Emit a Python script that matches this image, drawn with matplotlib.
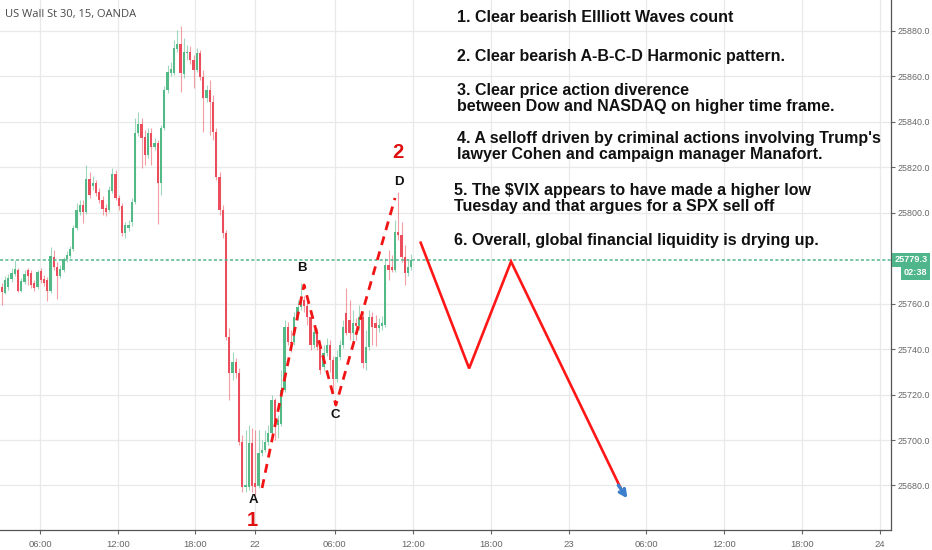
import matplotlib
matplotlib.use("Agg")
import matplotlib.pyplot as plt
import matplotlib.transforms as mtransforms
import numpy as np

# ---------------- data (15-min bars, US Wall St 30) ----------------
opens = [
    25767.3, 25764.7, 25767.3, 25770.8, 25773.0, 25774.8, 25765.6, 25769.5, 25774.8, 25773.5,
    25769.1, 25767.3, 25774.4, 25770.8, 25770.4, 25765.6, 25780.5, 25776.1, 25772.2, 25774.8,
    25779.6, 25781.0, 25784.0, 25793.3, 25800.3, 25803.4, 25800.3, 25814.8, 25811.8, 25813.1,
    25809.1, 25805.6, 25802.1, 25801.2, 25809.6, 25817.0, 25806.5, 25803.0, 25791.1, 25793.3,
    25795.9, 25804.7, 25835.1, 25839.0, 25833.3, 25825.4, 25835.1, 25828.9, 25830.7, 25813.1,
    25837.3, 25854.0, 25861.5, 25861.5, 25872.0, 25874.2, 25861.0, 25870.3, 25870.7, 25867.2,
    25862.8, 25870.3, 25859.7, 25850.5, 25854.0, 25848.7, 25835.5, 25815.7, 25801.2, 25791.1,
    25745.3, 25729.5, 25734.3, 25729.5, 25699.1, 25679.3, 25679.3, 25698.7, 25681.1, 25679.8,
    25694.3, 25695.6, 25699.1, 25703.1, 25717.6, 25706.6, 25707.0, 25722.0, 25749.7, 25743.1,
    25743.1, 25754.1, 25758.5, 25761.6, 25759.0, 25754.1, 25741.8, 25747.5, 25740.9, 25732.1,
    25738.3, 25741.8, 25735.2, 25726.8, 25736.5, 25741.8, 25755.9, 25752.8, 25747.1, 25751.5,
    25750.2, 25754.1, 25733.9, 25740.9, 25754.1, 25751.5, 25749.3, 25750.2, 25750.6, 25777.0,
    25776.1, 25774.8, 25791.5, 25790.2, 25780.5, 25773.5, 25776.1]
closes = [
    25765.1, 25770.4, 25771.3, 25773.5, 25775.2, 25765.6, 25770.0, 25773.0, 25772.2, 25768.2,
    25766.9, 25773.9, 25770.4, 25769.1, 25765.6, 25781.0, 25776.1, 25772.2, 25775.2, 25779.6,
    25781.4, 25784.0, 25793.3, 25801.2, 25803.4, 25800.3, 25814.8, 25807.8, 25813.1, 25808.7,
    25805.6, 25801.6, 25800.3, 25810.0, 25817.0, 25806.5, 25803.0, 25791.1, 25794.6, 25794.6,
    25804.7, 25835.1, 25839.0, 25832.9, 25825.4, 25835.1, 25828.9, 25830.7, 25813.1, 25837.3,
    25854.0, 25861.9, 25863.2, 25872.5, 25874.2, 25861.5, 25870.7, 25870.7, 25867.2, 25862.8,
    25870.3, 25859.7, 25850.5, 25854.0, 25848.7, 25835.5, 25815.7, 25801.2, 25791.1, 25745.3,
    25729.5, 25734.3, 25729.5, 25699.1, 25679.3, 25680.2, 25698.7, 25679.8, 25679.3, 25694.3,
    25695.6, 25699.1, 25703.1, 25717.6, 25707.0, 25708.8, 25722.0, 25749.7, 25743.1, 25742.7,
    25754.1, 25758.5, 25761.6, 25759.0, 25754.1, 25741.8, 25747.5, 25740.9, 25730.8, 25738.3,
    25741.8, 25735.2, 25726.8, 25736.5, 25741.8, 25749.7, 25747.1, 25747.1, 25751.5, 25750.2,
    25754.1, 25733.9, 25740.9, 25754.1, 25749.7, 25749.3, 25750.6, 25751.5, 25777.0, 25774.8,
    25774.8, 25791.5, 25790.2, 25780.5, 25773.5, 25776.1, 25779.3]
highs = [
    25769.1, 25772.2, 25773.0, 25775.7, 25779.2, 25775.7, 25771.3, 25774.8, 25775.7, 25774.8,
    25770.4, 25774.8, 25775.7, 25772.6, 25771.7, 25784.9, 25783.6, 25778.3, 25777.0, 25780.5,
    25783.2, 25785.4, 25794.6, 25804.3, 25805.6, 25805.6, 25821.0, 25817.9, 25816.2, 25814.4,
    25810.9, 25807.4, 25803.8, 25811.8, 25819.7, 25818.8, 25807.8, 25804.3, 25795.9, 25796.8,
    25806.5, 25841.7, 25844.3, 25841.7, 25836.4, 25837.3, 25837.3, 25832.9, 25832.0, 25838.6,
    25855.8, 25865.0, 25866.3, 25876.0, 25880.4, 25882.2, 25876.9, 25873.8, 25873.4, 25869.4,
    25872.5, 25871.6, 25862.8, 25856.2, 25858.4, 25851.8, 25837.3, 25817.9, 25803.4, 25792.4,
    25749.3, 25738.7, 25736.1, 25731.7, 25702.2, 25704.4, 25706.6, 25705.3, 25704.4, 25704.4,
    25700.0, 25704.4, 25706.6, 25719.8, 25718.5, 25711.0, 25730.8, 25752.8, 25751.9, 25748.4,
    25756.3, 25761.6, 25769.1, 25763.4, 25761.6, 25756.3, 25750.6, 25749.3, 25744.0, 25741.8,
    25744.9, 25744.0, 25737.0, 25739.6, 25744.0, 25752.8, 25766.9, 25761.6, 25757.2, 25753.7,
    25759.4, 25756.3, 25748.4, 25757.2, 25756.3, 25755.0, 25753.7, 25754.6, 25780.1, 25783.6,
    25781.4, 25796.8, 25809.1, 25795.9, 25785.8, 25779.2, 25781.8]
lows = [
    25759.4, 25764.2, 25766.0, 25769.5, 25772.2, 25765.1, 25765.1, 25768.6, 25768.2, 25766.9,
    25765.6, 25766.4, 25769.1, 25767.8, 25761.2, 25764.7, 25774.8, 25762.0, 25771.3, 25773.9,
    25778.3, 25780.1, 25783.2, 25792.4, 25799.0, 25795.5, 25799.4, 25806.5, 25810.0, 25807.4,
    25804.3, 25799.0, 25798.6, 25800.3, 25808.7, 25805.6, 25801.2, 25789.8, 25788.9, 25792.0,
    25794.2, 25803.8, 25833.8, 25819.7, 25821.0, 25824.1, 25821.0, 25827.6, 25795.0, 25807.8,
    25836.4, 25852.7, 25860.2, 25860.6, 25870.7, 25853.1, 25859.3, 25867.2, 25865.4, 25854.9,
    25861.9, 25858.4, 25835.5, 25848.7, 25834.2, 25832.0, 25814.4, 25799.0, 25788.9, 25744.0,
    25717.6, 25726.4, 25727.3, 25697.8, 25677.1, 25677.1, 25678.0, 25677.1, 25675.8, 25678.9,
    25693.0, 25694.7, 25697.8, 25702.2, 25700.0, 25700.9, 25706.2, 25721.1, 25741.8, 25738.7,
    25741.8, 25752.8, 25757.2, 25756.3, 25750.6, 25739.6, 25740.5, 25739.6, 25729.0, 25730.8,
    25737.0, 25729.9, 25720.7, 25725.5, 25735.2, 25740.5, 25746.2, 25744.0, 25741.8, 25744.0,
    25748.4, 25731.7, 25730.8, 25739.6, 25741.8, 25741.4, 25747.5, 25748.4, 25749.7, 25770.4,
    25773.9, 25773.9, 25788.0, 25778.3, 25768.2, 25772.2, 25774.8]

last_price = 25779.3
countdown = "02:38"
title = "US Wall St 30, 15, OANDA"

price_ticks = [25680, 25700, 25720, 25740, 25760, 25800, 25820, 25840, 25860, 25880]
time_tick_bars = [11.8, 35.8, 59.5, 77.9, 102.5, 126.5, 150.5, 174.5, 198.2, 222.2, 246.2, 270.2]
time_tick_labels = ["06:00", "12:00", "18:00", "22", "06:00", "12:00", "18:00", "23",
                    "06:00", "12:00", "18:00", "24"]

# ABCD harmonic (dashed) and projected path (solid), in (bar, price)
abcd_x = [80.1, 93.0, 102.8, 121.0]
abcd_y = [25678.9, 25768.2, 25715.4, 25806.5]
proj_x = [128.9, 143.8, 156.7, 191.2]
proj_y = [25786.8, 25731.5, 25778.5, 25676.5]

pt_labels = ["A", "B", "C", "D"]
pt_label_x = [77.6, 92.4, 102.5, 122.2]
pt_label_y = [25673.6, 25775.7, 25711.0, 25813.5]
wave_labels = ["1", "2"]
wave_label_x = [77.0, 121.9]
wave_label_y = [25664.8, 25826.3]

notes = [
    "1. Clear bearish Ellliott Waves count",
    "2. Clear bearish A-B-C-D Harmonic pattern.",
    "3. Clear price action diverence\nbetween Dow and NASDAQ on higher time frame.",
    "4. A selloff driven by criminal actions involving Trump's\nlawyer Cohen and campaign manager Manafort.",
    "5. The $VIX appears to have made a higher low\nTuesday and that argues for a SPX sell off",
    "6. Overall, global financial liquidity is drying up.",
]

# ---------------- figure ----------------
W, H = 932, 550
fig = plt.figure(figsize=(W / 100, H / 100), dpi=100)
ax = fig.add_axes([0, 20 / H, 891 / W, 530 / H])
ax.set_xlim(-0.54, 273.6)
ax.set_ylim(25660.4, 25893.6)

GREEN = "#53b987"
RED = "#eb4d5c"
GRID = "#e9e9e9"
LBL = dict(family="Liberation Sans", size=6.4)

o = np.array(opens); c = np.array(closes); h = np.array(highs); l = np.array(lows)
idx = np.arange(len(o))
up = c >= o
cols = np.where(up, GREEN, RED)

ax.set_xticks(time_tick_bars)
ax.set_xticklabels(time_tick_labels, fontdict=dict(family="Liberation Sans", size=6.8))
ax.set_yticks(price_ticks)
ax.set_yticklabels([f"{v:.1f}" for v in price_ticks], fontdict=LBL)
ax.grid(True, color=GRID, lw=0.9, zorder=0)
ax.set_axisbelow(True)

ax.yaxis.tick_right()
ax.tick_params(axis="both", colors="#666666", length=3, width=0.8)
ax.tick_params(axis="y", pad=2)
ax.tick_params(axis="x", pad=4)
for s in ["top", "left"]:
    ax.spines[s].set_visible(False)
for s in ["right", "bottom"]:
    ax.spines[s].set_color("#555555")
    ax.spines[s].set_linewidth(0.9)

# wicks and bodies
ax.vlines(idx, np.minimum(l, np.minimum(o, c)), np.maximum(h, np.maximum(o, c)),
          colors=cols, lw=0.8, alpha=0.55, zorder=2)
body_lo = np.minimum(o, c)
body_h = np.maximum(np.abs(c - o), 0.5)
ax.bar(idx, body_h, bottom=body_lo, width=0.72, color=cols, linewidth=0, zorder=3)

# last price line
ax.axhline(last_price, color="#4fb58a", lw=1.1, ls=(0, (2, 1.5)), zorder=4)

# harmonic dashed pattern
ax.plot(abcd_x, abcd_y, color="#f01414", lw=2.0, dashes=(3.2, 2.4), zorder=5,
        solid_capstyle="butt", dash_capstyle="butt")
# projected path
ax.plot(proj_x, proj_y, color="#ff1616", lw=1.9, zorder=5, solid_joinstyle="miter")
ax.annotate("", xy=(proj_x[-1] + 1.3, proj_y[-1] - 2.2), xytext=(proj_x[-1] - 1.5, proj_y[-1] + 3.6),
            arrowprops=dict(arrowstyle="->", color="#3d7fca", lw=2.4, mutation_scale=11,
                            shrinkA=0, shrinkB=0), zorder=6)

for t, x, y in zip(pt_labels, pt_label_x, pt_label_y):
    ax.text(x, y, t, ha="center", va="center", fontsize=9.5, family="Liberation Sans",
            fontweight="bold", color="#111111", zorder=6)
for t, x, y in zip(wave_labels, wave_label_x, wave_label_y):
    ax.text(x, y, t, ha="center", va="center", fontsize=14.5, family="Liberation Sans",
            fontweight="bold", color="#e01010", zorder=6)

# price label boxes on the axis
trans = mtransforms.blended_transform_factory(ax.transAxes, ax.transData)
ax.text(1.004, last_price, f"{last_price:.1f}", transform=trans, ha="left", va="center",
        family="Liberation Sans", fontsize=6.6, color="white", fontweight="bold",
        clip_on=False, zorder=7,
        bbox=dict(boxstyle="square,pad=0.3", fc="#4fb58a", ec="none"))
fig.text(915 / W, 1 - 272.5 / H, countdown, ha="center", va="center",
         family="Liberation Sans", fontsize=6.6, color="white", fontweight="bold",
         bbox=dict(boxstyle="square,pad=0.3", fc="#4fb58a", ec="none"))

# title
fig.text(5 / W, 1 - 14 / H, title, ha="left", va="center", fontsize=8, color="#4a4a4a",
         family="Open Sans")

# notes
note_pos = [(457, 17), (457, 56), (457, 98.5), (457, 146.5), (454, 198.5), (454, 241)]
for txt, (x, y) in zip(notes, note_pos):
    fig.text(x / W, 1 - y / H, txt, ha="left", va="center", fontsize=11.5,
             family="Liberation Sans", fontweight="bold", color="#111111",
             linespacing=1.12)

fig.savefig("out.png", dpi=100)
